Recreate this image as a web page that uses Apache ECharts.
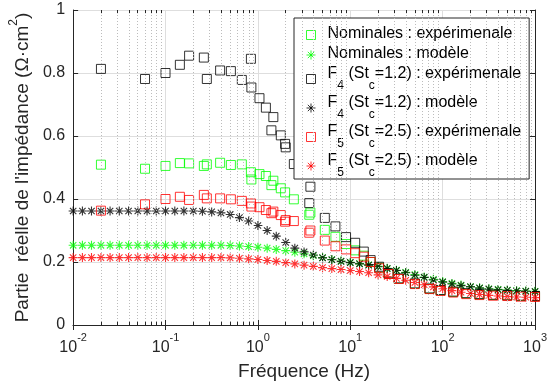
<!DOCTYPE html>
<html><head><meta charset="utf-8">
<script src="https://cdn.jsdelivr.net/npm/echarts@6/dist/echarts.min.js"></script>
<style>html,body{margin:0;padding:0;background:#fff}#c{width:550px;height:387px}</style>
</head><body><div id="c"></div><script>
// ---- data ----
const modelFreq = [0.01,0.0126,0.0158,0.02,0.0251,0.0316,0.0398,0.0501,0.0631,0.0794,
  0.1,0.126,0.158,0.2,0.251,0.316,0.398,0.501,0.631,0.794,
  1,1.26,1.58,2,2.51,3.16,3.98,5.01,6.31,7.94,
  10,12.6,15.8,20,25.1,31.6,39.8,50.1,63.1,79.4,
  100,126,158,200,251,316,398,501,631,794,1000];
const nomModel = [0.253,0.253,0.253,0.253,0.253,0.253,0.253,0.253,0.253,0.253,
  0.253,0.253,0.253,0.253,0.253,0.253,0.253,0.252,0.251,0.249,
  0.247,0.244,0.240,0.236,0.231,0.226,0.220,0.214,0.208,0.203,
  0.199,0.195,0.191,0.186,0.180,0.174,0.167,0.160,0.152,0.145,
  0.138,0.132,0.127,0.122,0.118,0.115,0.113,0.111,0.109,0.108,0.107];
const f4Model = [0.362,0.362,0.362,0.362,0.362,0.362,0.362,0.362,0.362,0.362,
  0.362,0.362,0.362,0.362,0.361,0.359,0.356,0.351,0.341,0.330,
  0.316,0.300,0.282,0.262,0.244,0.232,0.222,0.213,0.207,0.202,
  0.198,0.194,0.190,0.185,0.179,0.173,0.166,0.158,0.151,0.143,
  0.136,0.130,0.125,0.121,0.117,0.114,0.112,0.110,0.108,0.107,0.106];
const f5Model = [0.214,0.214,0.214,0.214,0.214,0.214,0.214,0.214,0.214,0.214,
  0.214,0.214,0.214,0.214,0.214,0.214,0.214,0.213,0.212,0.210,
  0.208,0.205,0.202,0.198,0.194,0.190,0.186,0.182,0.179,0.176,
  0.173,0.170,0.166,0.159,0.154,0.148,0.142,0.135,0.128,0.121,
  0.115,0.109,0.104,0.100,0.097,0.094,0.092,0.090,0.089,0.088,0.087];

const expFreq = [0.02,0.06,0.1,0.143,0.18,0.26,0.28,0.39,0.51,0.67,
  0.84,0.85,1.04,1.22,1.4,1.47,1.77,1.97,2.0,2.45,
  3.6,3.7,5.3,6.9,9.0,11.3,14,16.6,20.5,26,
  33.5,50,72,95,130,180,250,350,500,700,1000];
const nomExp = [0.509,0.496,0.505,0.514,0.513,0.505,0.510,0.515,0.508,0.510,
  0.485,0.462,0.479,0.473,0.444,0.458,0.434,0.421,null,0.399,
  0.350,0.357,0.302,0.280,0.257,0.237,0.220,0.200,0.182,0.163,
  0.147,0.131,0.115,0.110,0.105,0.100,0.097,0.095,0.094,0.092,0.091];
const f4Exp = [0.813,0.781,0.800,0.826,0.855,0.849,0.781,0.808,0.806,0.778,
  0.845,0.754,0.720,0.690,0.618,0.660,0.602,0.575,0.564,0.511,
  0.387,0.439,0.340,0.313,0.279,0.261,0.233,0.206,0.185,0.164,
  0.148,0.132,0.116,0.111,0.106,0.101,0.098,0.096,0.094,0.093,0.092];
const f5Exp = [0.363,0.383,0.400,0.407,0.397,0.413,0.402,0.402,0.399,0.394,
  0.386,0.376,0.374,0.365,0.355,0.360,0.349,0.328,0.333,0.330,
  0.293,0.300,0.268,0.250,0.240,0.228,0.217,0.200,0.180,0.162,
  0.146,0.130,0.114,0.108,0.103,0.098,0.095,0.093,0.092,0.090,0.089];

const seriesNames = [
  'Nominales : expérimenale',
  'Nominales : modèle',
  'F_4 (St_c=1.2) : expérimenale',
  'F_4 (St_c=1.2) : modèle',
  'F_5 (St_c=2.5) : expérimenale',
  'F_5 (St_c=2.5) : modèle'
];
const seriesColors = ['#00ff00','#00ff00','#000000','#000000','#ff0000','#ff0000'];

// ---- helpers ----
const FONT = 'Liberation Sans, Arial, sans-serif';
const AX = '#262626';
const ASTER = 'path://M0,5L10,5M5,0L5,10M1.46,1.46L8.54,8.54M1.46,8.54L8.54,1.46';
function pairs(fr, vals){ return fr.map((f,i)=>[f, vals[i]]).filter(p=>p[1]!=null); }

const minorVals = [];
for (let e=-2; e<3; e++) for (let d=2; d<=9; d++) minorVals.push(+(d*Math.pow(10,e)).toPrecision(3));

function expSeries(i, vals){
  return {name: seriesNames[i], type:'scatter', data: pairs(expFreq, vals), symbol:'rect', symbolSize:9,
    itemStyle:{color:'transparent', borderColor: seriesColors[i], borderWidth:1}, z:3};
}
function modSeries(i, vals){
  return {name: seriesNames[i], type:'scatter', data: pairs(modelFreq, vals), symbol:ASTER, symbolSize:9,
    itemStyle:{color:'transparent', borderColor: seriesColors[i], borderWidth:1.1}, z:3};
}

const chart = echarts.init(document.getElementById('c'), null, {renderer:'canvas'});
chart.setOption({
  animation:false,
  textStyle:{fontFamily:FONT},
  grid:{left:67, right:13, top:10, bottom:62},
  xAxis:[{
    type:'log', logBase:10, min:0.01, max:1000, position:'bottom',
    axisLine:{show:true, lineStyle:{color:AX, width:1}},
    axisTick:{show:true, inside:true, length:5, lineStyle:{color:AX}},
    splitLine:{show:true, lineStyle:{color:'#dedede', width:1}},
    axisLabel:{margin:7, color:AX,
      formatter:v=>'{b|10}{p|'+Math.round(Math.log10(v))+'}',
      rich:{b:{fontSize:16, fontFamily:FONT, color:AX, verticalAlign:'bottom', lineHeight:24},
            p:{fontSize:11, fontFamily:FONT, color:AX, verticalAlign:'top', lineHeight:24}}},
    name:'Fréquence (Hz)', nameLocation:'middle', nameGap:37,
    nameTextStyle:{fontSize:19, color:AX, fontFamily:FONT}
  },{
    type:'log', logBase:10, min:0.01, max:1000, position:'top',
    axisLine:{show:true, lineStyle:{color:AX, width:1}},
    axisTick:{show:true, inside:true, length:5, lineStyle:{color:AX}},
    splitLine:{show:false}, axisLabel:{show:false}
  }],
  yAxis:[{
    type:'value', min:0, max:1, interval:0.2, position:'left',
    axisLine:{show:true, lineStyle:{color:AX, width:1}},
    axisTick:{show:true, inside:true, length:5, lineStyle:{color:AX}},
    splitLine:{show:true, lineStyle:{color:'#dedede', width:1}},
    axisLabel:{margin:8, color:AX, fontSize:16, fontFamily:FONT},
    name:"{t|Partie  réelle de l'impédance (Ω·cm}{p|2}{t|)}", nameLocation:'middle', nameGap:27,
    nameTextStyle:{rich:{t:{fontSize:19, fontFamily:FONT, color:AX, verticalAlign:'bottom', lineHeight:24},
                         p:{fontSize:12, fontFamily:FONT, color:AX, verticalAlign:'top', lineHeight:24}}}
  },{
    type:'value', min:0, max:1, interval:0.2, position:'right',
    axisLine:{show:true, lineStyle:{color:AX, width:1}},
    axisTick:{show:true, inside:true, length:5, lineStyle:{color:AX}},
    splitLine:{show:false}, axisLabel:{show:false}
  }],
  legend:{
    orient:'vertical', left:294, top:18, padding:[8,8,0,12], itemGap:3,
    backgroundColor:'#fff', borderColor:'#262626', borderWidth:1,
    itemWidth:9, itemHeight:9, selectedMode:false,
    itemStyle:{borderWidth:1},
    data: seriesNames.map((n,i)=>({name:n, icon: i%2===0 ? 'rect' : ASTER})),
    formatter: n => '{g|}' + n.split(/(_\w)/).filter(s=>s).map(s => s[0]==='_' ? '{s|'+s[1]+'}' : '{m|'+s+'}').join(''),
    textStyle:{fontFamily:FONT, fontSize:16, color:'#000',
      rich:{g:{width:7, lineHeight:18},
            m:{fontSize:16, fontFamily:FONT, color:'#000', verticalAlign:'top', lineHeight:18},
            s:{fontSize:12, fontFamily:FONT, color:'#000', verticalAlign:'bottom', lineHeight:26}}}
  },
  series:[
    {type:'line', data:[], silent:true, z:1,
     markLine:{silent:true, symbol:['none','none'], label:{show:false},
       lineStyle:{color:'#bcbcbc', type:[1,2], width:1},
       data: minorVals.map(v=>({xAxis:v}))}},
    {type:'line', data:[], silent:true, z:1,
     markLine:{silent:true, symbol:['none','none'], label:{show:false},
       lineStyle:{color:AX, type:'solid', width:1},
       data: minorVals.map(v=>[{coord:[v,0]},{coord:[v,0.01]}])
         .concat(minorVals.map(v=>[{coord:[v,1]},{coord:[v,0.99]}]))}},
    expSeries(0, nomExp), modSeries(1, nomModel),
    expSeries(2, f4Exp), modSeries(3, f4Model),
    expSeries(4, f5Exp), modSeries(5, f5Model)
  ]
});
</script></body></html>
